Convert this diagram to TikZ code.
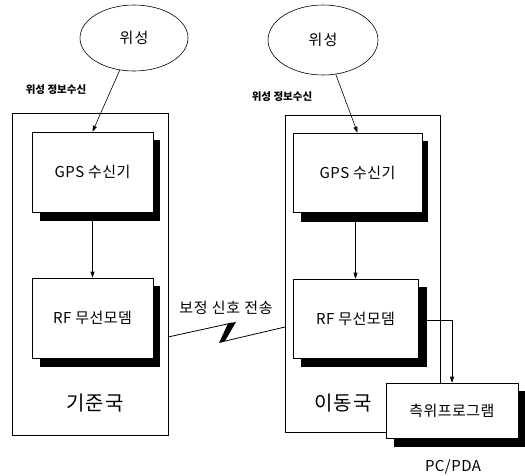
\documentclass[tikz,border=0pt]{standalone}
\usepackage{fontspec}
\setmainfont{Noto Sans CJK KR}
\usetikzlibrary{arrows.meta,shapes.geometric}
\begin{document}
\begin{tikzpicture}[x=1pt,y=-1pt,
  sat/.style={draw,ellipse,line width=0.6pt,font=\fontsize{15}{18}\selectfont\addfontfeature{LetterSpace=8}},
  outerbox/.style={draw,line width=0.6pt},
  unitbox/.style={draw,fill=white,line width=0.6pt,font=\fontsize{15}{18}\selectfont\addfontfeature{LetterSpace=3}},
  shadowbox/.style={fill=black},
  conn/.style={line width=0.6pt,-{Triangle[length=6pt,width=4pt]}},
  lbl/.style={font=\fontsize{10.5}{12}\selectfont\bfseries},
  big/.style={font=\fontsize{20}{24}\selectfont\addfontfeature{LetterSpace=5}}]
\useasboundingbox (0,0) rectangle (525,475);
% satellites
\node[sat,minimum width=108pt,minimum height=66pt] (satL) at (134,38) {위성};
\node[sat,minimum width=110pt,minimum height=70pt] (satR) at (323,40) {위성};
% outer station boxes
\draw[outerbox] (12,113) rectangle (168,435);
\draw[outerbox] (285,115) rectangle (440,432);
\coordinate (leftEdge) at (168,337);
\coordinate (rightEdge) at (285,327);
% shadows
\fill[shadowbox] (40,140) rectangle (160,221);
\fill[shadowbox] (40,286) rectangle (160,367);
\fill[shadowbox] (301,141) rectangle (428,222);
\fill[shadowbox] (301,287) rectangle (427,367);
\fill[shadowbox] (394,391) rectangle (525,447);
% unit boxes
\node[unitbox,minimum width=121pt,minimum height=80pt] (gpsL) at (92.5,172) {GPS 수신기};
\node[unitbox,minimum width=121pt,minimum height=80pt] (rfL) at (92.5,318) {RF 무선모뎀};
\node[unitbox,minimum width=129pt,minimum height=79pt] (gpsR) at (357.5,172.5) {GPS 수신기};
\node[unitbox,minimum width=125pt,minimum height=79pt] (rfR) at (355.5,318.5) {RF 무선모뎀};
\node[unitbox,minimum width=132pt,minimum height=55pt] (pc) at (452,410.5) {측위프로그램};
% labels
\node[lbl] (lblL) at (56,90) {위성 정보수신};
\node[lbl] (lblR) at (282,97) {위성 정보수신};
\node[big] (baseT) at (95,403) {기준국};
\node[big] (mobT) at (343,403) {이동국};
\node[font=\fontsize{15}{18}\selectfont\addfontfeature{LetterSpace=5}] (sig) at (226,308) {보정 신호 전송};
\node[font=\fontsize{15}{18}\selectfont\addfontfeature{LetterSpace=3}] (pcpda) at (453,467) {PC/PDA};
% connectors
\draw[conn] (satL) -- (gpsL.north);
\draw[conn] (satR) -- (gpsR.north);
\draw[conn] (gpsL) -- (rfL);
\draw[conn] (gpsR.south -| rfR.north) -- (rfR.north);
\draw[conn] (rfR.east |- 0,320) -| (pc.north);
% lightning link
\draw[line width=0.8pt] (leftEdge) -- (232,323);
\fill (228,323.5) -- (236,322) -- (225,341) -- (219,343) -- cycle;
\draw[line width=0.8pt] (221,342) -- (rightEdge);
\end{tikzpicture}
\end{document}
